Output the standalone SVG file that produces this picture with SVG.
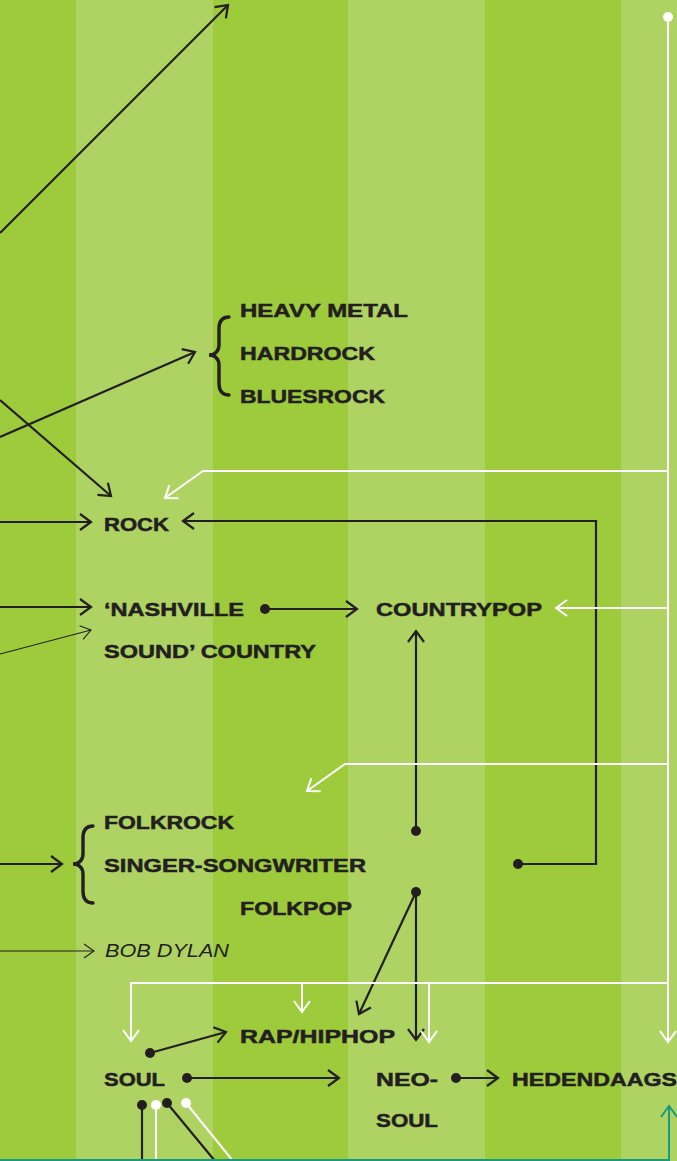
<svg xmlns="http://www.w3.org/2000/svg" width="677" height="1161" viewBox="0 0 677 1161">
<style>
.dk{fill:#9dcb3b}.lt{fill:#afd363}
.lbl{font-family:"Liberation Sans",Arial,sans-serif;font-weight:bold;font-size:19px;fill:#231f20;stroke:#231f20;stroke-width:0.5}
.it{font-family:"Liberation Sans",Arial,sans-serif;font-style:italic;font-size:18px;fill:#231f20}
.b{fill:none;stroke:#231f20;stroke-width:2.2}
.bt{fill:none;stroke:#231f20;stroke-width:1.1}
.w{fill:none;stroke:#ffffff;stroke-width:2}
.t{fill:none;stroke:#1a9a7c;stroke-width:2}
.br{fill:none;stroke:#231f20;stroke-width:3.4;stroke-linecap:round}
.db{fill:#231f20}.dw{fill:#ffffff}
</style>
<defs>
<marker id="ab" markerUnits="userSpaceOnUse" orient="auto" overflow="visible" refX="0" refY="0" markerWidth="14" markerHeight="18"><path d="M-11,-8 L0,0 L-11,8" fill="none" stroke="#231f20" stroke-width="2.2"/></marker>
<marker id="at" markerUnits="userSpaceOnUse" orient="auto" overflow="visible" refX="0" refY="0" markerWidth="12" markerHeight="16"><path d="M-10,-7 L0,0 L-10,7" fill="none" stroke="#231f20" stroke-width="1.1"/></marker>
<marker id="aw" markerUnits="userSpaceOnUse" orient="auto" overflow="visible" refX="0" refY="0" markerWidth="14" markerHeight="18"><path d="M-11,-8 L0,0 L-11,8" fill="none" stroke="#ffffff" stroke-width="2"/></marker>
<marker id="atl" markerUnits="userSpaceOnUse" orient="auto" overflow="visible" refX="0" refY="0" markerWidth="14" markerHeight="18"><path d="M-11,-8 L0,0 L-11,8" fill="none" stroke="#1a9a7c" stroke-width="2"/></marker>
</defs>
<g id="background">
<rect class="dk" x="0" y="0" width="76" height="1161"/>
<rect class="lt" x="76" y="0" width="137" height="1161"/>
<rect class="dk" x="213" y="0" width="135" height="1161"/>
<rect class="lt" x="348" y="0" width="137" height="1161"/>
<rect class="dk" x="485" y="0" width="136" height="1161"/>
<rect class="lt" x="621" y="0" width="56" height="1161"/>
</g>
<g id="connectors">
<path class="b" d="M0,233 L228,5" marker-end="url(#ab)"/>
<path class="b" d="M0,437 L195,352" marker-end="url(#ab)"/>
<path class="b" d="M0,400 L111,496" marker-end="url(#ab)"/>
<path class="b" d="M0,522 L91,522" marker-end="url(#ab)"/>
<path class="b" d="M0,607 L91,607" marker-end="url(#ab)"/>
<path class="bt" d="M0,654 L91,630" marker-end="url(#at)"/>
<path class="b" d="M518,864 L596,864 L596,521 L183,521" marker-end="url(#ab)"/>
<circle class="db" cx="518" cy="864" r="5"/>
<path class="b" d="M265,609 L357,609" marker-end="url(#ab)"/>
<circle class="db" cx="265" cy="609" r="5"/>
<path class="b" d="M416,831 L416,631" marker-end="url(#ab)"/>
<circle class="db" cx="416" cy="831" r="5"/>
<path class="b" d="M0,864 L62,864" marker-end="url(#ab)"/>
<path class="bt" d="M0,951 L94,951" marker-end="url(#at)"/>
<path class="b" d="M416,892 L416,1040" marker-end="url(#ab)"/>
<path class="b" d="M416,892 L359,1014" marker-end="url(#ab)"/>
<circle class="db" cx="416" cy="892" r="5"/>
<path class="b" d="M150,1053 L226,1032" marker-end="url(#ab)"/>
<circle class="db" cx="150" cy="1053" r="5"/>
<path class="b" d="M187,1078 L339,1078" marker-end="url(#ab)"/>
<circle class="db" cx="187" cy="1078" r="5"/>
<path class="b" d="M456,1078 L498,1078" marker-end="url(#ab)"/>
<circle class="db" cx="456" cy="1078" r="5"/>
<path class="b" d="M142,1105 L142,1161"/>
<circle class="db" cx="142" cy="1105" r="5"/>
<path class="w" d="M156,1105 L156,1161"/>
<circle class="dw" cx="156" cy="1105" r="5"/>
<path class="b" d="M167,1103 L215,1161"/>
<circle class="db" cx="167" cy="1103" r="5"/>
<path class="w" d="M186,1103 L233,1161"/>
<circle class="dw" cx="186" cy="1103" r="5"/>
<path class="w" d="M668,17 L668,1042" marker-end="url(#aw)"/>
<circle class="dw" cx="668" cy="17" r="5"/>
<path class="w" d="M668,471 L203,471 L165,498" marker-end="url(#aw)"/>
<path class="w" d="M668,608 L556,608" marker-end="url(#aw)"/>
<path class="w" d="M668,764 L345,764 L307,791" marker-end="url(#aw)"/>
<path class="w" d="M668,983 L131,983 L131,1041" marker-end="url(#aw)"/>
<path class="w" d="M302,983 L302,1012" marker-end="url(#aw)"/>
<path class="w" d="M429,983 L429,1042" marker-end="url(#aw)"/>
<path class="t" d="M0,1160 L669,1160 L669,1106" marker-end="url(#atl)"/>
</g>
<g id="heavy-group">
<path class="br" d="M229,317 C222,317 219,321 219,329 L219,345 C219,351 215,355 209,355 C215,355 219,359 219,365 L219,383 C219,391 222,395 229,395"/>
<text class="lbl" x="240" y="317" textLength="168" lengthAdjust="spacingAndGlyphs">HEAVY METAL</text>
<text class="lbl" x="240" y="360" textLength="135" lengthAdjust="spacingAndGlyphs">HARDROCK</text>
<text class="lbl" x="240" y="403" textLength="145" lengthAdjust="spacingAndGlyphs">BLUESROCK</text>
</g>
<g id="rock"><text class="lbl" x="104" y="531" textLength="65" lengthAdjust="spacingAndGlyphs">ROCK</text></g>
<g id="nashville">
<text class="lbl" x="104" y="616" textLength="140" lengthAdjust="spacingAndGlyphs">‘NASHVILLE</text>
<text class="lbl" x="104" y="658" textLength="212" lengthAdjust="spacingAndGlyphs">SOUND’ COUNTRY</text>
</g>
<g id="countrypop"><text class="lbl" x="376" y="616" textLength="166" lengthAdjust="spacingAndGlyphs">COUNTRYPOP</text></g>
<g id="folk-group">
<path class="br" d="M93,826 C86,826 83,830 83,838 L83,854 C83,860 79,864 73,864 C79,864 83,868 83,874 L83,891 C83,899 86,903 93,903"/>
<text class="lbl" x="104" y="829" textLength="130" lengthAdjust="spacingAndGlyphs">FOLKROCK</text>
<text class="lbl" x="104" y="872" textLength="262" lengthAdjust="spacingAndGlyphs">SINGER-SONGWRITER</text>
<text class="lbl" x="240" y="915" textLength="112" lengthAdjust="spacingAndGlyphs">FOLKPOP</text>
</g>
<g id="bob-dylan"><text class="it" x="105" y="957" textLength="124" lengthAdjust="spacingAndGlyphs">BOB DYLAN</text></g>
<g id="raphiphop"><text class="lbl" x="240" y="1043" textLength="155" lengthAdjust="spacingAndGlyphs">RAP/HIPHOP</text></g>
<g id="soul"><text class="lbl" x="104" y="1086" textLength="61" lengthAdjust="spacingAndGlyphs">SOUL</text></g>
<g id="neosoul">
<text class="lbl" x="376" y="1086" textLength="62" lengthAdjust="spacingAndGlyphs">NEO-</text>
<text class="lbl" x="376" y="1127" textLength="62" lengthAdjust="spacingAndGlyphs">SOUL</text>
</g>
<g id="hedendaags"><text class="lbl" x="512" y="1086" textLength="165" lengthAdjust="spacingAndGlyphs">HEDENDAAGS</text></g>
</svg>
